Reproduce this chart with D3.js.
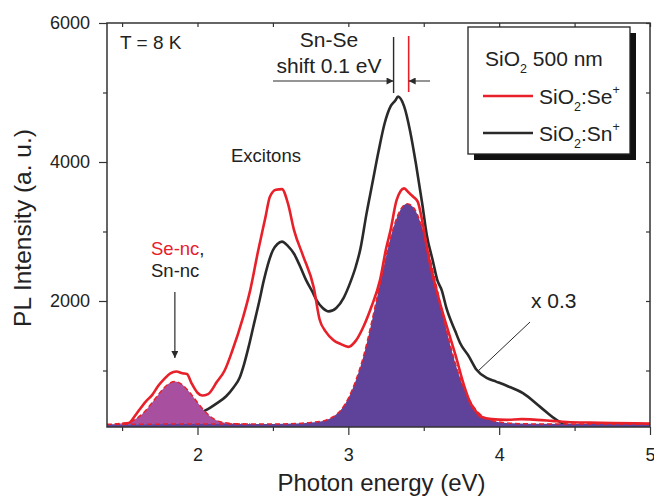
<!DOCTYPE html>
<html lang="en">
<head>
  <meta charset="UTF-8" />
  <title>PL spectra - SiO2:Se+ / SiO2:Sn+</title>
  <style>
    body {
      margin: 0;
      background: #fff;
      font-family: "Liberation Sans", Arial, sans-serif;
    }
    svg { display: block; }
    .axis line { stroke: #333; stroke-width: 1.2px; }
    .axis path { display: none; }
    .axis text {
      font-family: "Liberation Sans", Arial, sans-serif;
      font-size: 18px;
      fill: #222;
    }
    .note {
      font-family: "Liberation Sans", Arial, sans-serif;
      fill: #222;
    }
  </style>
</head>
<body>
  <svg width="654" height="499"></svg>

  <script src="https://cdnjs.cloudflare.com/ajax/libs/d3/7.8.5/d3.min.js"></script>
  <script>
    // spectra: [photon energy eV, PL intensity a.u.]
    const seSpectrum = [
      [1.50, 230], [1.55, 250], [1.58, 330], [1.62, 450], [1.66, 560], [1.70, 650],
      [1.74, 780], [1.78, 880], [1.82, 960], [1.86, 985], [1.90, 960], [1.93, 950],
      [1.96, 820], [2.00, 680], [2.03, 640], [2.07, 660], [2.13, 840], [2.18, 1000],
      [2.23, 1280], [2.30, 1750], [2.35, 2160], [2.40, 2700], [2.45, 3200], [2.48, 3500],
      [2.52, 3600], [2.56, 3610], [2.60, 3400], [2.64, 3020], [2.70, 2650], [2.77, 2200],
      [2.81, 1730], [2.85, 1560], [2.90, 1440], [2.95, 1380], [3.00, 1340], [3.05, 1430],
      [3.10, 1630], [3.15, 1900], [3.21, 2300], [3.25, 2750], [3.28, 3020], [3.32, 3450],
      [3.37, 3620], [3.40, 3560], [3.43, 3500], [3.46, 3430], [3.49, 3150], [3.52, 2780],
      [3.55, 2450], [3.59, 2110], [3.63, 1800], [3.68, 1440], [3.72, 1150], [3.75, 910],
      [3.78, 700], [3.81, 530], [3.85, 400], [3.88, 335], [3.95, 300], [4.05, 290],
      [4.15, 300], [4.25, 290], [4.35, 275], [4.45, 260], [4.60, 250], [4.75, 245],
      [4.90, 240], [5.00, 235]
    ];

    const snSpectrum = [
      [1.95, 300], [2.02, 390], [2.08, 460], [2.13, 530], [2.19, 630], [2.24, 760],
      [2.28, 900], [2.31, 1100], [2.34, 1350], [2.37, 1630], [2.41, 2000], [2.44, 2300],
      [2.50, 2730], [2.53, 2820], [2.56, 2855], [2.60, 2790], [2.64, 2680], [2.68, 2500],
      [2.72, 2300], [2.76, 2140], [2.79, 2010], [2.83, 1900], [2.87, 1850], [2.92, 1900],
      [2.97, 2050], [3.01, 2250], [3.05, 2500], [3.08, 2750], [3.12, 3250], [3.16, 3700],
      [3.20, 4150], [3.24, 4550], [3.28, 4800], [3.31, 4880], [3.33, 4940], [3.37, 4800],
      [3.41, 4440], [3.45, 3950], [3.49, 3400], [3.52, 2950], [3.56, 2580], [3.59, 2300],
      [3.62, 2150], [3.65, 1900], [3.71, 1560], [3.74, 1400], [3.80, 1200], [3.85, 1010],
      [3.92, 890], [3.98, 840], [4.05, 780], [4.16, 670], [4.27, 480], [4.38, 290],
      [4.46, 215], [4.60, 205], [4.80, 205], [5.00, 205]
    ];

    // gaussian fits (filled)
    const fitNc = [
      [1.45, 230], [1.55, 262], [1.60, 315], [1.65, 410], [1.70, 540], [1.75, 680],
      [1.80, 795], [1.85, 840], [1.90, 795], [1.95, 680], [2.00, 540], [2.05, 410],
      [2.10, 315], [2.15, 262], [2.25, 234], [2.35, 230]
    ];

    const fitMain = [
      [1.40, 228], [2.50, 230], [2.65, 236], [2.75, 252], [2.85, 285], [2.90, 335],
      [2.95, 430], [3.00, 600], [3.05, 860], [3.10, 1200], [3.15, 1650], [3.20, 2150],
      [3.25, 2640], [3.30, 3060], [3.35, 3330], [3.39, 3400], [3.43, 3350], [3.48, 3120],
      [3.53, 2720], [3.58, 2250], [3.63, 1770], [3.68, 1330], [3.73, 960], [3.78, 680],
      [3.83, 480], [3.88, 360], [3.95, 285], [4.05, 245], [4.20, 232], [5.00, 228]
    ];

    const fitBaseline = 230;
    const peakSn = 3.3, peakSe = 3.4;   // "shift 0.1 eV" markers

    const xMajor = [2, 3, 4, 5];
    const xMinor = [1.5, 2.5, 3.5, 4.5];
    const yMajor = [2000, 4000, 6000];
    const yMinor = [1000, 3000, 5000];

    const red = "#e8202a";
    const dark = "#2a2a2a";

    const svg = d3.select("svg");
    const mLeft = 107, mRight = 650, mTop = 23, mBottom = 427;

    const x = d3.scaleLinear().domain([1.4, 5]).range([mLeft, mRight]);
    const y = d3.scaleLinear().domain([187, 6000]).range([mBottom, mTop]);

    const line = d3.line()
      .x(d => x(d[0]))
      .y(d => y(d[1]))
      .curve(d3.curveMonotoneX);

    const plot = svg.append("g");

    // Sn spectrum goes under the fills
    plot.append("path")
      .datum(snSpectrum)
      .attr("d", line)
      .attr("fill", "none")
      .attr("stroke", dark)
      .attr("stroke-width", 2.6);

    plot.append("path")
      .datum(fitMain)
      .attr("d", d3.area()
        .x(d => x(d[0]))
        .y0(y(y.domain()[0]))
        .y1(d => y(d[1]))
        .curve(d3.curveMonotoneX))
      .attr("fill", "#5f429a");

    plot.append("path")
      .datum(fitNc)
      .attr("d", d3.area()
        .x(d => x(d[0]))
        .y0(y(fitBaseline))
        .y1(d => y(d[1]))
        .curve(d3.curveMonotoneX))
      .attr("fill", "#a8509f");

    [fitMain, fitNc].forEach(f => {
      plot.append("path")
        .datum(f)
        .attr("d", line)
        .attr("fill", "none")
        .attr("stroke", red)
        .attr("stroke-width", 1.5)
        .attr("stroke-dasharray", "5,3");
    });

    plot.append("path")
      .datum(seSpectrum)
      .attr("d", line)
      .attr("fill", "none")
      .attr("stroke", red)
      .attr("stroke-width", 2.6);

    // axes
    svg.append("g").attr("class", "axis")
      .attr("transform", `translate(0,${mBottom})`)
      .call(d3.axisBottom(x).tickValues(xMajor).tickSize(8).tickPadding(13).tickFormat(d3.format("d")));
    svg.append("g").attr("class", "axis")
      .attr("transform", `translate(0,${mBottom})`)
      .call(d3.axisBottom(x).tickValues(xMinor).tickSize(4).tickFormat(""));
    svg.append("g").attr("class", "axis")
      .attr("transform", `translate(0,${mTop})`)
      .call(d3.axisTop(x).tickValues(xMajor.concat(xMinor)).tickSize(-4).tickFormat(""));

    svg.append("g").attr("class", "axis")
      .attr("transform", `translate(${mLeft},0)`)
      .call(d3.axisLeft(y).tickValues(yMajor).tickSize(8).tickPadding(9).tickFormat(d3.format("d")));
    svg.append("g").attr("class", "axis")
      .attr("transform", `translate(${mLeft},0)`)
      .call(d3.axisLeft(y).tickValues(yMinor).tickSize(4).tickFormat(""));
    svg.append("g").attr("class", "axis")
      .attr("transform", `translate(${mRight},0)`)
      .call(d3.axisRight(y).tickValues(yMajor.concat(yMinor)).tickSize(-4).tickFormat(""));

    svg.append("rect")
      .attr("x", mLeft).attr("y", mTop)
      .attr("width", mRight - mLeft).attr("height", mBottom - mTop)
      .attr("fill", "none")
      .attr("stroke", "#333")
      .attr("stroke-width", 1.5);

    // axis titles
    svg.append("text").attr("class", "note")
      .attr("x", (mLeft + mRight) / 2 + 3).attr("y", 491)
      .attr("text-anchor", "middle")
      .attr("font-size", 24)
      .text("Photon energy (eV)");

    svg.append("text").attr("class", "note")
      .attr("transform", "translate(31,228) rotate(-90)")
      .attr("text-anchor", "middle")
      .attr("font-size", 24.5)
      .text("PL Intensity (a. u.)");

    // arrowheads
    const defs = svg.append("defs");
    defs.append("marker")
      .attr("id", "arr")
      .attr("viewBox", "0 0 10 10")
      .attr("refX", 10).attr("refY", 5)
      .attr("markerWidth", 10).attr("markerHeight", 7)
      .attr("markerUnits", "userSpaceOnUse")
      .attr("orient", "auto")
      .append("path")
      .attr("d", "M0,0L10,5L0,10Z")
      .attr("fill", dark);

    // annotations
    svg.append("text").attr("class", "note")
      .attr("x", 120).attr("y", 49)
      .attr("font-size", 19)
      .text("T = 8 K");

    svg.append("text").attr("class", "note")
      .attr("x", 329).attr("y", 47)
      .attr("text-anchor", "middle")
      .attr("font-size", 21)
      .text("Sn-Se");
    svg.append("text").attr("class", "note")
      .attr("x", 329).attr("y", 73)
      .attr("text-anchor", "middle")
      .attr("font-size", 21)
      .text("shift 0.1 eV");

    svg.append("line")
      .attr("x1", x(peakSn)).attr("x2", x(peakSn))
      .attr("y1", 37).attr("y2", 93)
      .attr("stroke", dark).attr("stroke-width", 1.4);
    svg.append("line")
      .attr("x1", x(peakSe)).attr("x2", x(peakSe))
      .attr("y1", 36).attr("y2", 92)
      .attr("stroke", red).attr("stroke-width", 1.6);

    svg.append("line")
      .attr("x1", 273).attr("x2", x(peakSn))
      .attr("y1", 81).attr("y2", 81)
      .attr("stroke", dark).attr("stroke-width", 1)
      .attr("marker-end", "url(#arr)");
    svg.append("line")
      .attr("x1", 430).attr("x2", x(peakSe))
      .attr("y1", 81).attr("y2", 81)
      .attr("stroke", dark).attr("stroke-width", 1)
      .attr("marker-end", "url(#arr)");

    svg.append("text").attr("class", "note")
      .attr("x", 231).attr("y", 162)
      .attr("font-size", 18.5)
      .text("Excitons");

    const nc = svg.append("text").attr("class", "note")
      .attr("x", 151).attr("y", 255)
      .attr("font-size", 18.5);
    nc.append("tspan").attr("fill", red).text("Se-nc");
    nc.append("tspan").text(",");
    svg.append("text").attr("class", "note")
      .attr("x", 151).attr("y", 277)
      .attr("font-size", 18.5)
      .text("Sn-nc");

    svg.append("line")
      .attr("x1", x(1.85)).attr("x2", x(1.85))
      .attr("y1", 292).attr("y2", 358)
      .attr("stroke", dark).attr("stroke-width", 1.2)
      .attr("marker-end", "url(#arr)");

    svg.append("text").attr("class", "note")
      .attr("x", 531).attr("y", 308)
      .attr("font-size", 21)
      .text("x 0.3");
    svg.append("line")
      .attr("x1", 530).attr("y1", 322)
      .attr("x2", 477).attr("y2", 372)
      .attr("stroke", dark).attr("stroke-width", 1);

    // legend
    const lg = svg.append("g");
    lg.append("rect")
      .attr("x", 474).attr("y", 33)
      .attr("width", 162).attr("height", 127)
      .attr("fill", "#111");
    lg.append("rect")
      .attr("x", 468).attr("y", 27)
      .attr("width", 162).attr("height", 127)
      .attr("fill", "#fff")
      .attr("stroke", "#222")
      .attr("stroke-width", 1.3);

    const title = lg.append("text").attr("class", "note")
      .attr("x", 485).attr("y", 66)
      .attr("font-size", 21);
    title.append("tspan").text("SiO");
    title.append("tspan").attr("font-size", 12.5).attr("dy", 7).text("2");
    title.append("tspan").attr("dy", -7).text(" 500 nm");

    const entries = [
      { label: "Se", color: red, y: 96 },
      { label: "Sn", color: dark, y: 133 }
    ];
    entries.forEach(e => {
      lg.append("line")
        .attr("x1", 483).attr("x2", 533)
        .attr("y1", e.y).attr("y2", e.y)
        .attr("stroke", e.color).attr("stroke-width", 2.6);
      const t = lg.append("text").attr("class", "note")
        .attr("x", 539).attr("y", e.y + 8)
        .attr("font-size", 21);
      t.append("tspan").text("SiO");
      t.append("tspan").attr("font-size", 12.5).attr("dy", 7).text("2");
      t.append("tspan").attr("dy", -7).text(":" + e.label);
      t.append("tspan").attr("font-size", 12.5).attr("dy", -10).text("+");
    });
  </script>
</body>
</html>
